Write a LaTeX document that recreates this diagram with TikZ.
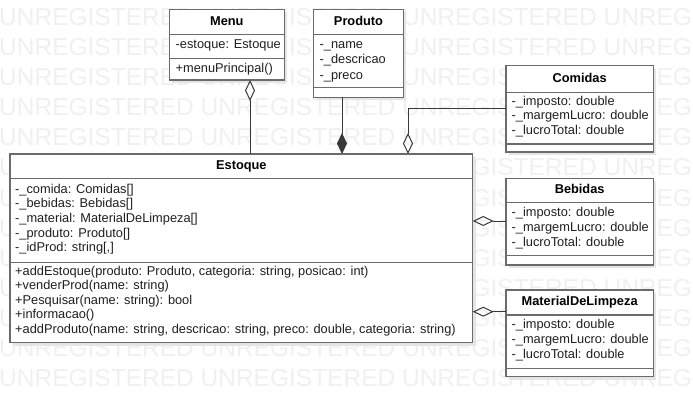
\documentclass[tikz,border=0pt]{standalone}
\usepackage{fontspec}
\setmainfont{Liberation Sans}
\usetikzlibrary{arrows.meta,shadows}

\begin{document}
\begin{tikzpicture}[x=1pt, y=-1pt,
  part/.style={draw=black!58, line width=1.4pt, fill=white, inner sep=0pt,
    outer sep=0pt, anchor=north west,
    drop shadow={shadow xshift=3pt, shadow yshift=-3pt, fill=black!10, opacity=1}},
  head/.style={part, font=\fontsize{12.8}{15}\selectfont\bfseries,
    text height=9.3pt, text depth=2.7pt},
  member/.style={font=\fontsize{12.8}{15}\selectfont, text=black!88,
    anchor=west, inner sep=0pt, text height=9.3pt, text depth=2.7pt},
  wmark/.style={font=\fontsize{24.5}{26}\selectfont, text=black!6,
    anchor=west, inner sep=0pt, text height=17.6pt, text depth=0pt},
  agg/.style={draw=black!78, line width=1pt,
    -{Diamond[open, length=21pt, width=10pt]}},
  aggrev/.style={draw=black!78, line width=1pt,
    {Diamond[open, length=21pt, width=10pt]}-},
  comp/.style={draw=black!78, line width=1pt,
    -{Diamond[length=21pt, width=10pt]}}
]
\useasboundingbox (0,0) rectangle (693,417);

% Watermark
\begin{scope}
\clip (0,0) rectangle (693,417);
\foreach \k in {0,...,12}
  \node[wmark] (wm\k) at (-1, 16.6+30.1*\k)
    {UNREGISTERED UNREGISTERED UNREGISTERED UNREGI};
\end{scope}

% Menu
\node[head, minimum width=115pt, minimum height=25pt] (menu-head) at (169.3,9.3) {Menu};
\node[part, minimum width=115pt, minimum height=24pt] (menu-attr) at (menu-head.south west) {};
\node[part, minimum width=115pt, minimum height=21.7pt] (menu-ops) at (menu-attr.south west) {};
\node[member] (menu-a1) at (175.5,45.7) {-estoque: Estoque};
\node[member] (menu-o1) at (175.5,69) {+menuPrincipal()};

% Produto
\node[head, minimum width=89.6pt, minimum height=25pt] (prod-head) at (313.7,9.3) {Produto};
\node[part, minimum width=89.6pt, minimum height=53.4pt] (prod-attr) at (prod-head.south west) {};
\node[part, minimum width=89.6pt, minimum height=9.6pt] (prod-ops) at (prod-attr.south west) {};
\foreach \t [count=\i] in {-\_name, -\_descricao, -\_preco}
  \node[member] (prod-a\i) at (319.5, 45+15.5*\i-15.5) {\t};

% Comidas
\node[head, minimum width=147.3pt, minimum height=26.6pt] (com-head) at (506,65.7) {Comidas};
\node[part, minimum width=147.3pt, minimum height=51.8pt] (com-attr) at (com-head.south west) {};
\node[part, minimum width=147.3pt, minimum height=8pt] (com-ops) at (com-attr.south west) {};
\foreach \t [count=\i] in {-\_imposto: double, -\_margemLucro: double, -\_lucroTotal: double}
  \node[member] (com-a\i) at (511.5, 102.3+14.4*\i-14.4) {\t};

% Estoque
\node[head, minimum width=462.7pt, minimum height=24.3pt] (est-head) at (10,154) {Estoque};
\node[part, minimum width=462.7pt, minimum height=84pt] (est-attr) at (est-head.south west) {};
\node[part, minimum width=462.7pt, minimum height=80.4pt] (est-ops) at (est-attr.south west) {};
\foreach \t [count=\i] in {-\_comida: Comidas[], -\_bebidas: Bebidas[],
    -\_material: MaterialDeLimpeza[], -\_produto: Produto[], {-\_idProd: string[,]}}
  \node[member] (est-a\i) at (15, 190+14.6*\i-14.6) {\t};
\foreach \t [count=\i] in {{+addEstoque(produto: Produto, categoria: string, posicao: int)},
    +venderProd(name: string), +Pesquisar(name: string): bool, +informacao(),
    {+addProduto(name: string, descricao: string, preco: double, categoria: string)}}
  \node[member] (est-o\i) at (15, 271.7+14.6*\i-14.6) {\t};

% Bebidas
\node[head, minimum width=147.3pt, minimum height=24.4pt] (beb-head) at (506,178.3) {Bebidas};
\node[part, minimum width=147.3pt, minimum height=53pt] (beb-attr) at (beb-head.south west) {};
\node[part, minimum width=147.3pt, minimum height=9.3pt] (beb-ops) at (beb-attr.south west) {};
\foreach \t [count=\i] in {-\_imposto: double, -\_margemLucro: double, -\_lucroTotal: double}
  \node[member] (beb-a\i) at (511.5, 213.3+14.7*\i-14.7) {\t};

% MaterialDeLimpeza
\node[head, minimum width=147.3pt, minimum height=25pt] (mat-head) at (506,290) {MaterialDeLimpeza};
\node[part, minimum width=147.3pt, minimum height=53.3pt] (mat-attr) at (mat-head.south west) {};
\node[part, minimum width=147.3pt, minimum height=8.4pt] (mat-ops) at (mat-attr.south west) {};
\foreach \t [count=\i] in {-\_imposto: double, -\_margemLucro: double, -\_lucroTotal: double}
  \node[member] (mat-a\i) at (511.5, 325+15*\i-15) {\t};

% Associations
\coordinate (j-menu) at (250,0);
\coordinate (j-prod) at (342,0);
\coordinate (j-com) at (408,108.3);
\coordinate (j-beb) at (0,221);
\coordinate (j-mat) at (0,311.7);

\draw[aggrev] (menu-ops.south -| j-menu) -- (est-head.north -| j-menu);
\draw[comp] (prod-ops.south -| j-prod) -- (est-head.north -| j-prod);
\draw[agg] (com-attr.west |- j-com) -| (est-head.north -| j-com);
\draw[agg] (beb-attr.west |- j-beb) -- (est-attr.east |- j-beb);
\draw[agg] (mat-head.west |- j-mat) -- (est-ops.east |- j-mat);

\end{tikzpicture}
\end{document}
